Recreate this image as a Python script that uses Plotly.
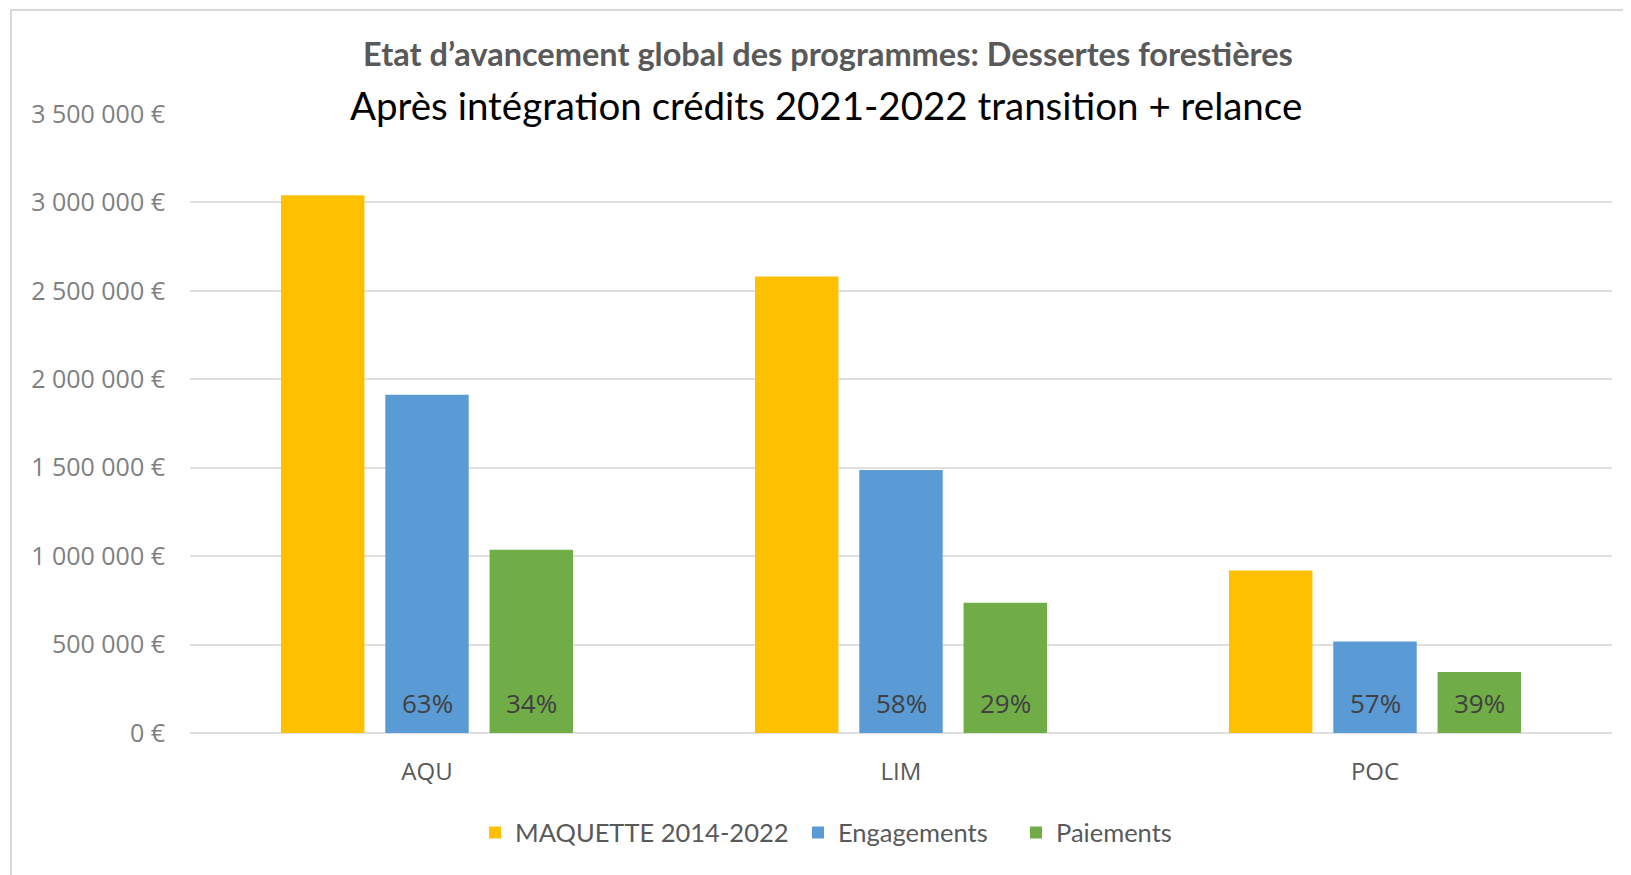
import plotly.graph_objects as go

categories = ["AQU", "LIM", "POC"]
maquette = [3041000, 2581000, 919000]
engagements = [1913000, 1487000, 517000]
paiements = [1036000, 736000, 345000]
eng_pct = ["63%", "58%", "57%"]
pai_pct = ["34%", "29%", "39%"]
series_names = ["MAQUETTE 2014-2022", "Engagements", "Paiements"]
series_colors = ["#FFC000", "#5B9BD5", "#70AD47"]
tick_vals = [0, 500000, 1000000, 1500000, 2000000, 2500000, 3000000, 3500000]
tick_text = ["0 €", "500 000 €", "1 000 000 €", "1 500 000 €", "2 000 000 €",
             "2 500 000 €", "3 000 000 €", "3 500 000 €"]

OFF = 8  # default page body margin
W, H = 1631 - OFF, 875 - OFF
# plot area in page pixels
L, R, T, B = 190 - OFF, 1612 - OFF, 113.5 - OFF, 733 - OFF
BARGAP = 0.34
BARGROUPGAP = 0.2
# page x where each legend text starts
LEGEND_TEXT_X = [515, 838, 1056]


def px_x(p):
    return (p - OFF - L) / (R - L)


def px_y(p):
    return (B - (p - OFF)) / (B - T)


fig = go.Figure()
legend_ids = ["legend", "legend2", "legend3"]
for name, vals, col, lid in zip(series_names, [maquette, engagements, paiements],
                                 series_colors, legend_ids):
    fig.add_trace(go.Bar(x=categories, y=vals, name=name, legend=lid,
                         marker=dict(color=col, line=dict(width=0))))

# percentage labels at the bottom of the bars
slot_px = (R - L) / len(categories) * (1 - BARGAP) / 3
annotations = []
for idx, labels in ((1, eng_pct), (2, pai_pct)):
    for cat, lab in zip(categories, labels):
        annotations.append(dict(x=cat, y=0, xref="x", yref="y", text=lab,
                                showarrow=False, xanchor="center", yanchor="middle",
                                xshift=(idx - 1) * slot_px, yshift=30,
                                font=dict(family="Open Sans", size=26, color="#404040")))

annotations.append(dict(text="Après intégration crédits 2021-2022 transition + relance",
                        xref="paper", yref="paper", x=px_x(826), y=px_y(104),
                        xanchor="center", yanchor="middle", showarrow=False,
                        font=dict(family="Lato", size=38.5, color="#000000")))

legend_common = dict(orientation="h", xanchor="left", yanchor="middle",
                     font=dict(family="Lato", size=25.5, color="#595959"),
                     bgcolor="rgba(0,0,0,0)", itemwidth=30, borderwidth=0)
legends = {}
for lid, tx in zip(legend_ids, LEGEND_TEXT_X):
    legends[lid] = dict(legend_common, x=px_x(tx - 40), y=px_y(833))

fig.update_layout(
    width=W, height=H,
    margin=dict(l=L, r=W - R, t=T, b=H - B, pad=0),
    paper_bgcolor="#FFFDF7",
    plot_bgcolor="white",
    barmode="group",
    bargap=BARGAP,
    bargroupgap=BARGROUPGAP,
    title=dict(text="<b>Etat d’avancement global des programmes: Dessertes forestières</b>",
               x=(828 - OFF) / W, y=1 - (55 - OFF) / H, xanchor="center", yanchor="middle",
               font=dict(family="Lato", size=32.5, color="#595959")),
    showlegend=True,
    shapes=[dict(type="rect", xref="paper", yref="paper",
                 x0=px_x(11), x1=px_x(1660), y0=px_y(9.5), y1=px_y(900),
                 fillcolor="white", line=dict(color="#D9D9D9", width=2), layer="below")],
    annotations=annotations,
    **legends,
)
fig.update_xaxes(showgrid=False, showline=False, ticks="",
                 tickfont=dict(family="Open Sans", size=24, color="#595959"),
                 ticklabelstandoff=22)
fig.update_yaxes(range=[0, 3500000], tickvals=tick_vals, ticktext=tick_text,
                 showgrid=True, gridcolor="#E0E0E0", gridwidth=1.5,
                 zeroline=True, zerolinecolor="#E0E0E0", zerolinewidth=1.5,
                 showline=False, ticks="", ticklabelstandoff=24,
                 tickfont=dict(family="Open Sans", size=25, color="#7F7F7F"))

fig.write_html("out.html")
